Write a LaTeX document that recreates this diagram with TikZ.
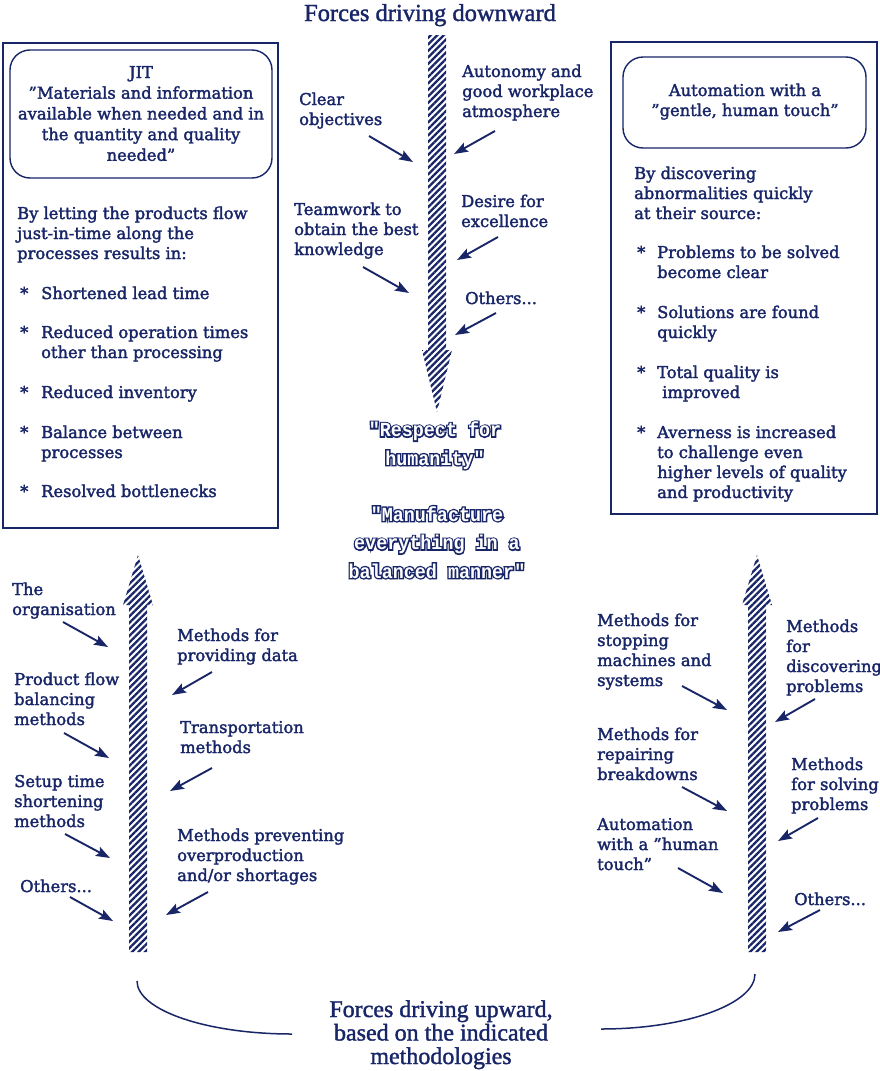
\documentclass[tikz,border=0pt]{standalone}
\usepackage{fontspec}
\setmainfont{DejaVu Serif}[FakeBold=2]
\newfontfamily\titlef{Liberation Serif}[FakeBold=1.5]
\newfontfamily\outf{Liberation Mono}[FakeStretch=0.92]
\newfontfamily\outfd{Liberation Mono}[FakeStretch=0.92,FakeBold=14]
\usetikzlibrary{arrows.meta,patterns.meta}
\definecolor{navy}{RGB}{24,38,104}
\newcommand\bodyf{\fontsize{16.3}{20}\selectfont}
\newcommand\outlinelabel[3]{%
  \node[outdark] (#1-rim) at #2 {#3};%
  \node[outwhite] (#1) at #2 {#3};}
\tikzset{
  lbl/.style={font=\bodyf, text=navy, align=left, anchor=base west, inner sep=0pt},
  ctr/.style={font=\bodyf, text=navy, align=center, anchor=base, inner sep=0pt},
  nl/.style={yshift={-(#1-1)*20pt}},
  ttl/.style={font=\titlef\fontsize{24.5}{23.5}\selectfont, text=navy, align=center, anchor=base, inner sep=0pt},
  outdark/.style={font=\outfd\bfseries\fontsize{20}{28.5}\selectfont, text=navy, align=center, anchor=base, inner sep=0pt},
  outwhite/.style={font=\outf\bfseries\fontsize{20}{28.5}\selectfont, text=white, align=center, anchor=base, inner sep=0pt},
  ptr/.style={draw=navy, line width=1.9pt, -{Stealth[length=14pt,width=10pt,inset=2.5pt]}},
  frame/.style={draw=navy, line width=1.4pt},
  rframe/.style={draw=navy, line width=1.4pt, rounded corners=20pt},
  bigarrow/.style={pattern={Lines[angle=45,distance=4.6pt,line width=2.3pt]}, pattern color=navy},
  curve/.style={draw=navy, line width=1.5pt},
}
\begin{document}
\begin{tikzpicture}[x=1pt,y=-1pt]
\fill[white] (0,0) rectangle (880,1071);
\useasboundingbox (0,0) rectangle (880,1071);

% ---------- title ----------
\node[ttl] (title) at (430,21) {Forces driving downward};

% ---------- big arrows ----------
\path[bigarrow] (428,35) -- (446,35) -- (446,350) -- (452,350) -- (437,412) -- (422,350) -- (428,350) -- cycle;
\path[bigarrow] (129,952) -- (147,952) -- (147,605) -- (153,605) -- (138,555) -- (123,605) -- (129,605) -- cycle;
\path[bigarrow] (748,952) -- (766,952) -- (766,605) -- (772,605) -- (757,555) -- (742,605) -- (748,605) -- cycle;

% ---------- left box ----------
\draw[frame] (3,43) rectangle (278,528);
\draw[rframe] (10,50) rectangle (272,178);
\node[ctr, font=\fontsize{16.3}{20.7}\selectfont, yshift=-82.8pt] (jit) at (141,78) {JIT\\”Materials and information\\available when needed and in\\the quantity and quality\\needed”};
\node[lbl, nl=3] (jitintro) at (17,219) {By letting the products flow\\just-in-time along the\\processes results in:};
\node[lbl] (l1s) at (20,299) {*};
\node[lbl] (l1) at (41,299) {Shortened lead time};
\node[lbl] (l2s) at (20,338) {*};
\node[lbl, nl=2] (l2) at (41,338) {Reduced operation times\\other than processing};
\node[lbl] (l3s) at (20,398) {*};
\node[lbl] (l3) at (41,398) {Reduced inventory};
\node[lbl] (l4s) at (20,438) {*};
\node[lbl, nl=2] (l4) at (41,438) {Balance between\\processes};
\node[lbl] (l5s) at (20,497) {*};
\node[lbl] (l5) at (41,497) {Resolved bottlenecks};

% ---------- right box ----------
\draw[frame] (611,42) rectangle (877,514);
\draw[rframe] (623,57) rectangle (866,148);
\node[ctr, nl=2] (auto) at (745,96) {Automation with a\\”gentle, human touch”};
\node[lbl, nl=3] (autointro) at (634,179) {By discovering\\abnormalities quickly\\at their source:};
\node[lbl] (r1s) at (637,258) {*};
\node[lbl, nl=2] (r1) at (657,258) {Problems to be solved\\become clear};
\node[lbl] (r2s) at (637,318) {*};
\node[lbl, nl=2] (r2) at (657,318) {Solutions are found\\quickly};
\node[lbl] (r3s) at (637,378) {*};
\node[lbl, nl=2] (r3) at (657,378) {Total quality is\\\hspace*{5pt}improved};
\node[lbl] (r4s) at (637,438) {*};
\node[lbl, nl=4] (r4) at (657,438) {Averness is increased\\to challenge even\\higher levels of quality\\and productivity};

% ---------- top centre labels ----------
\node[lbl, nl=2] (clear) at (299,105) {Clear\\objectives};
\node[lbl, nl=3] (autonomy) at (462,77) {Autonomy and\\good workplace\\atmosphere};
\node[lbl, nl=3] (team) at (294,215) {Teamwork to\\obtain the best\\knowledge};
\node[lbl, nl=2] (desire) at (461,207) {Desire for\\excellence};
\node[lbl] (othtop) at (465,304) {Others...};

\coordinate (c1s) at (369,136); \coordinate (c1e) at (413,162);
\coordinate (c2s) at (495,131); \coordinate (c2e) at (454,154);
\coordinate (c3s) at (363,267); \coordinate (c3e) at (409,293);
\coordinate (c4s) at (498,237); \coordinate (c4e) at (457,260);
\coordinate (c5s) at (496,313); \coordinate (c5e) at (455,335);
\draw[ptr] (c1s) -- (c1e);
\draw[ptr] (c2s) -- (c2e);
\draw[ptr] (c3s) -- (c3e);
\draw[ptr] (c4s) -- (c4e);
\draw[ptr] (c5s) -- (c5e);

% ---------- outlined centre text ----------
\outlinelabel{respect}{(435,465)}{"Respect for\\humanity"}
\outlinelabel{manuf}{(437,578)}{"Manufacture\\everything in a\\balanced manner"}

% ---------- bottom left labels ----------
\node[lbl, nl=2] (org) at (12,595) {The\\organisation};
\node[lbl, nl=2] (data) at (177,641) {Methods for\\providing data};
\node[lbl, nl=3] (pflow) at (14,685) {Product flow\\balancing\\methods};
\node[lbl, nl=2] (transp) at (180,733) {Transportation\\methods};
\node[lbl, nl=3] (setup) at (14,787) {Setup time\\shortening\\methods};
\node[lbl, nl=3] (prevent) at (177,841) {Methods preventing\\overproduction\\and/or shortages};
\node[lbl] (othl) at (20,892) {Others...};

\coordinate (b1s) at (63,622);  \coordinate (b1e) at (108,647);
\coordinate (b2s) at (212,672); \coordinate (b2e) at (172,695);
\coordinate (b3s) at (64,733);  \coordinate (b3e) at (109,758);
\coordinate (b4s) at (212,768); \coordinate (b4e) at (170,791);
\coordinate (b5s) at (65,834);  \coordinate (b5e) at (110,858);
\coordinate (b6s) at (208,892); \coordinate (b6e) at (166,915);
\coordinate (b7s) at (70,897);  \coordinate (b7e) at (113,921);
\draw[ptr] (b1s) -- (b1e);
\draw[ptr] (b2s) -- (b2e);
\draw[ptr] (b3s) -- (b3e);
\draw[ptr] (b4s) -- (b4e);
\draw[ptr] (b5s) -- (b5e);
\draw[ptr] (b6s) -- (b6e);
\draw[ptr] (b7s) -- (b7e);

% ---------- bottom right labels ----------
\node[lbl, nl=4] (stop) at (597,626) {Methods for\\stopping\\machines and\\systems};
\node[lbl, nl=4] (disc) at (786,632) {Methods\\for\\discovering\\problems};
\node[lbl, nl=3] (repair) at (597,740) {Methods for\\repairing\\breakdowns};
\node[lbl, nl=3] (solve) at (791,770) {Methods\\for solving\\problems};
\node[lbl, nl=3] (human) at (597,830) {Automation\\with a ”human\\touch”};
\node[lbl] (othr) at (794,905) {Others...};

\coordinate (d1s) at (682,686); \coordinate (d1e) at (727,710);
\coordinate (d2s) at (815,699); \coordinate (d2e) at (775,722);
\coordinate (d3s) at (682,787); \coordinate (d3e) at (727,811);
\coordinate (d4s) at (818,818); \coordinate (d4e) at (778,841);
\coordinate (d5s) at (678,868); \coordinate (d5e) at (723,893);
\coordinate (d6s) at (820,910); \coordinate (d6e) at (778,932);
\draw[ptr] (d1s) -- (d1e);
\draw[ptr] (d2s) -- (d2e);
\draw[ptr] (d3s) -- (d3e);
\draw[ptr] (d4s) -- (d4e);
\draw[ptr] (d5s) -- (d5e);
\draw[ptr] (d6s) -- (d6e);

% ---------- bottom brace and caption ----------
\coordinate (kl1) at (137,981); \coordinate (kl2) at (292,1034);
\coordinate (kr1) at (755,974); \coordinate (kr2) at (601,1029);
\draw[curve] (kl1) .. controls (137,1010) and (206,1034) .. (kl2);
\draw[curve] (kr1) .. controls (755,1004) and (686,1029) .. (kr2);
\node[ttl, font=\titlef\fontsize{24}{23.5}\selectfont] (up) at (441,1064) {Forces driving upward,\\based on the indicated\\methodologies};
\end{tikzpicture}
\end{document}
